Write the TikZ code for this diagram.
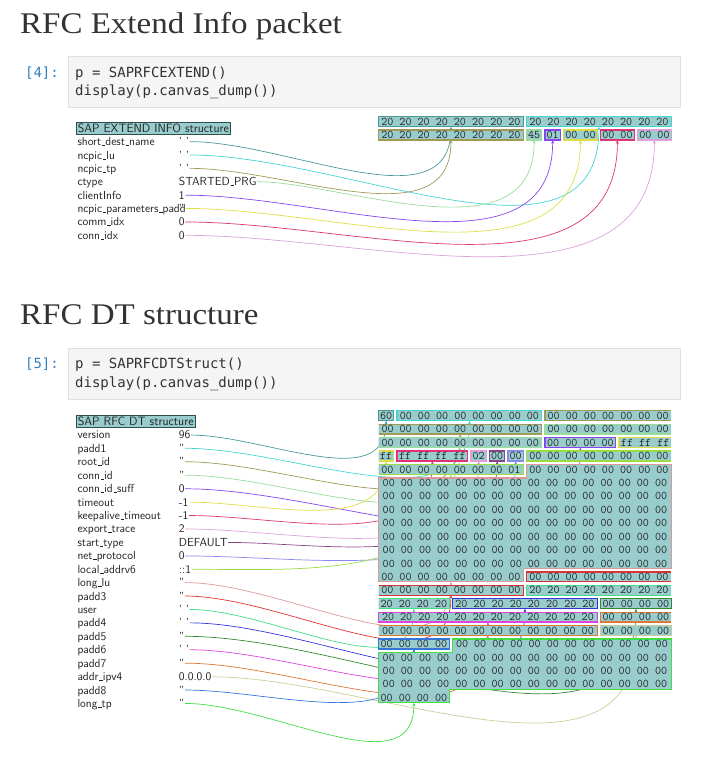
\documentclass[tikz,border=0pt]{standalone}
\usepackage{fontspec}
\usepackage{graphicx}
\newfontfamily\titlefont{Liberation Serif}
\newfontfamily\codefont{DejaVu Sans Mono}
\usetikzlibrary{calc,arrows.meta}
\pgfdeclarelayer{curves}
\pgfdeclarelayer{frames}
\pgfsetlayers{curves,frames,main}
\definecolor{titlegray}{HTML}{333333}
\definecolor{promptblue}{HTML}{307FC1}
\definecolor{codegray}{HTML}{333333}
\definecolor{cellbg}{HTML}{F5F5F5}
\definecolor{cellborder}{HTML}{E0E0E0}
\definecolor{bk}{HTML}{99CCCC}
\definecolor{txt}{HTML}{222222}
\definecolor{hdrborder}{HTML}{2F4F4F}
\definecolor{cA}{HTML}{4A9999}
\definecolor{cB}{HTML}{44D4D4}
\definecolor{cC}{HTML}{A09A55}
\definecolor{cD}{HTML}{99DD99}
\definecolor{cE}{HTML}{8844EE}
\definecolor{cF}{HTML}{DDDD44}
\definecolor{cG}{HTML}{DD3377}
\definecolor{cH}{HTML}{DDA0DD}
\definecolor{cI}{HTML}{884488}
\definecolor{cJ}{HTML}{8888EE}
\definecolor{cK}{HTML}{99DD44}
\definecolor{cL}{HTML}{DD9999}
\definecolor{cM}{HTML}{DD3333}
\definecolor{cN}{HTML}{44DD88}
\definecolor{cO}{HTML}{3333DD}
\definecolor{cP}{HTML}{338833}
\definecolor{cQ}{HTML}{DD44DD}
\definecolor{cR}{HTML}{DD7733}
\definecolor{cS}{HTML}{CCCC99}
\definecolor{cT}{HTML}{3377DD}
\definecolor{cU}{HTML}{44DD44}
\newcommand{\usc}{\leavevmode\kern.06em\rule{0.3em}{0.5pt}}
\newcommand{\hexchunk}[5]{\node[chunk, minimum width={18.5*#4-3.83}] (#1) at ({378.63+18.5*#3},#2) {#5};}
\newcommand{\boxfld}[2]{\filldraw[fld=#2] (#1.south west) rectangle (#1.north east);}
\newcommand{\brkfld}[3]{%
  \fill[bk] (#1.south west) rectangle (#1.north east) (#2.south west) rectangle (#2.north east);
  \draw[fldline=#3] (#1.north east) -- (#1.north west) -- (#1.south west) -- (#1.south east)
     (#2.north west) -- (#2.north east) -- (#2.south east) -- (#2.south west);}
\newcommand{\polyfld}[5]{%
  \filldraw[fld=#5] (#1.north west) -- (#1.north east) -- (#1.east |- #3.south) -- (#4.east |- #3.south)
     -- (#4.south east) -- (#4.south west) -- (#2.north west) -- (#1.west |- #2.north) -- cycle;}
\newcommand{\linkcurve}[3]{%
  \draw[conn=#3] let \p1=(#1.center), \p2=(#2.center), \n1={0.39*veclen(\x2-\x1,\y2-\y1)} in
    (#1.east) .. controls (\x1+\n1,\y1) and (\x2,\y2-\n1) .. (#2.south);}
\begin{document}
\begin{tikzpicture}[x=1pt,y=-1pt,
  ttl/.style={anchor=base west, inner sep=0pt, text=titlegray, font=\titlefont\fontsize{30}{32}\selectfont},
  prompt/.style={anchor=base east, inner sep=0pt, text=promptblue, font=\codefont\fontsize{14}{16}\selectfont},
  codetxt/.style={anchor=base west, inner sep=0pt, text=codegray, font=\codefont\fontsize{14}{16}\selectfont},
  cell/.style={anchor=north west, fill=cellbg, draw=cellborder, line width=0.8pt, inner sep=0pt},
  fname/.style={anchor=base west, inner sep=0pt, text=txt, font=\sffamily\fontsize{11.7}{13}\selectfont},
  fval/.style={anchor=base west, inner sep=0.4pt, text=txt, font=\sffamily\fontsize{11.7}{13}\selectfont},
  hdr/.style={anchor=west, draw=hdrborder, fill=bk, line width=1.1pt, inner xsep=1.6pt, inner ysep=1.6pt,
    text height=8.4pt, text depth=0.4pt, text=txt, font=\sffamily\fontsize{12.1}{13}\selectfont},
  chunk/.style={anchor=west, inner xsep=0pt, inner ysep=1.17pt, text height=7.2pt, text depth=0pt,
    text=txt, font=\ttfamily\fontsize{11.75}{12}\selectfont},
  fld/.style={draw=#1, fill=bk, line width=1.3pt, line join=miter},
  fldline/.style={draw=#1, line width=1.3pt, line join=miter},
  conn/.style={draw=#1, line width=0.7pt, -{Stealth[length=3.6pt,width=3pt]}}
]
\useasboundingbox (0,0) rectangle (708,762);

% ---------------- Section 1 ----------------
\node[ttl] (title1) at (20,33.3) {\scalebox{1.1}[1]{RFC Extend Info packet}};
\node[cell, minimum width=612pt, minimum height=51pt] (cell1) at (68,56.5) {};
\node[prompt] (prompt1) at (59,77.3) {[4]:};
\node[codetxt] (code1a) at (75,77.3) {p = SAPRFCEXTEND()};
\node[codetxt] (code1b) at (75,96) {display(p.canvas\_dump())};

\node[hdr] (eh) at (75.6,128.7) {SAP EXTEND INFO structure};
\foreach \nm/\vl [count=\i] in {short\usc dest\usc name/' ', ncpic\usc lu/' ', ncpic\usc tp/' ', ctype/STARTED\usc PRG,
   clientInfo/1, ncpic\usc parameters\usc padd/'', comm\usc idx/0, conn\usc idx/0} {
  \node[fname] (en\i) at (77.3,{132.35+13.35*\i}) {\nm};
  \node[fval] (ev\i) at (178.3,{132.35+13.35*\i}) {\vl};
}
\hexchunk{e1a}{121.7}{0}{8}{20 20 20 20 20 20 20 20}
\hexchunk{e1b}{121.7}{8}{8}{20 20 20 20 20 20 20 20}
\hexchunk{e2a}{135.1}{0}{8}{20 20 20 20 20 20 20 20}
\hexchunk{e2b}{135.1}{8}{1}{45}
\hexchunk{e2c}{135.1}{9}{1}{01}
\hexchunk{e2d}{135.1}{10}{2}{00 00}
\hexchunk{e2e}{135.1}{12}{2}{00 00}
\hexchunk{e2f}{135.1}{14}{2}{00 00}

% ---------------- Section 2 ----------------
\node[ttl] (title2) at (20,324.3) {\scalebox{1.1}[1]{RFC DT structure}};
\node[cell, minimum width=612pt, minimum height=51pt] (cell2) at (68,347.5) {};
\node[prompt] (prompt2) at (59,368.3) {[5]:};
\node[codetxt] (code2a) at (75,368.3) {p = SAPRFCDTStruct()};
\node[codetxt] (code2b) at (75,387) {display(p.canvas\_dump())};

\node[hdr] (dh) at (75.6,421.5) {SAP RFC DT structure};
\foreach \nm/\vl [count=\i] in {version/96, padd1/'', root\usc id/'', conn\usc id/'', conn\usc id\usc suff/0,
   timeout/-1, keepalive\usc timeout/-1, export\usc trace/2, start\usc type/DEFAULT, net\usc protocol/0,
   local\usc addrv6/::1, long\usc lu/'', padd3/'', user/' ', padd4/' ', padd5/'', padd6/' ', padd7/'',
   addr\usc ipv4/0.0.0.0, padd8/'', long\usc tp/''} {
  \node[fname] (dn\i) at (77.3,{425.47+13.43*\i}) {\nm};
  \node[fval] (dv\i) at (178.3,{425.47+13.43*\i}) {\vl};
}
\hexchunk{d1a}{415.70}{0}{1}{60}
\hexchunk{d1b}{415.70}{1}{8}{00 00 00 00 00 00 00 00}
\hexchunk{d1c}{415.70}{9}{7}{00 00 00 00 00 00 00}
\hexchunk{d2a}{429.13}{0}{9}{00 00 00 00 00 00 00 00 00}
\hexchunk{d2b}{429.13}{9}{7}{00 00 00 00 00 00 00}
\hexchunk{d3a}{442.56}{0}{9}{00 00 00 00 00 00 00 00 00}
\hexchunk{d3b}{442.56}{9}{4}{00 00 00 00}
\hexchunk{d3c}{442.56}{13}{3}{ff ff ff}
\hexchunk{d4a}{455.99}{0}{1}{ff}
\hexchunk{d4b}{455.99}{1}{4}{ff ff ff ff}
\hexchunk{d4c}{455.99}{5}{1}{02}
\hexchunk{d4d}{455.99}{6}{1}{00}
\hexchunk{d4e}{455.99}{7}{1}{00}
\hexchunk{d4f}{455.99}{8}{8}{00 00 00 00 00 00 00 00}
\hexchunk{d5a}{469.42}{0}{8}{00 00 00 00 00 00 00 01}
\hexchunk{d5b}{469.42}{8}{8}{00 00 00 00 00 00 00 00}
\foreach \r/\yy in {6/482.85, 7/496.28, 8/509.71, 9/523.14, 10/536.57, 11/550.00, 12/563.43} {
  \hexchunk{d\r}{\yy}{0}{16}{00 00 00 00 00 00 00 00 00 00 00 00 00 00 00 00}
}
\hexchunk{d13a}{576.86}{0}{8}{00 00 00 00 00 00 00 00}
\hexchunk{d13b}{576.86}{8}{8}{00 00 00 00 00 00 00 00}
\hexchunk{d14a}{590.29}{0}{8}{00 00 00 00 00 00 00 00}
\hexchunk{d14b}{590.29}{8}{8}{20 20 20 20 20 20 20 20}
\hexchunk{d15a}{603.72}{0}{4}{20 20 20 20}
\hexchunk{d15b}{603.72}{4}{8}{20 20 20 20 20 20 20 20}
\hexchunk{d15c}{603.72}{12}{4}{00 00 00 00}
\hexchunk{d16a}{617.15}{0}{12}{20 20 20 20 20 20 20 20 20 20 20 20}
\hexchunk{d16b}{617.15}{12}{4}{00 00 00 00}
\hexchunk{d17a}{630.58}{0}{12}{00 00 00 00 00 00 00 00 00 00 00 00}
\hexchunk{d17b}{630.58}{12}{4}{00 00 00 00}
\hexchunk{d18a}{644.01}{0}{4}{00 00 00 00}
\hexchunk{d18b}{644.01}{4}{12}{00 00 00 00 00 00 00 00 00 00 00 00}
\foreach \r/\yy in {19/657.44, 20/670.87, 21/684.30} {
  \hexchunk{d\r}{\yy}{0}{16}{00 00 00 00 00 00 00 00 00 00 00 00 00 00 00 00}
}
\hexchunk{d22}{697.73}{0}{4}{00 00 00 00}

% ---------------- frames ----------------
\begin{pgfonlayer}{frames}
\boxfld{e1a}{cA}
\boxfld{e1b}{cB}
\boxfld{e2a}{cC}
\boxfld{e2b}{cD}
\boxfld{e2c}{cE}
\boxfld{e2d}{cF}
\boxfld{e2e}{cG}
\boxfld{e2f}{cH}
\boxfld{d1a}{cA}
\boxfld{d1b}{cB}
\brkfld{d1c}{d2a}{cC}
\brkfld{d2b}{d3a}{cD}
\boxfld{d3b}{cE}
\brkfld{d3c}{d4a}{cF}
\boxfld{d4b}{cG}
\boxfld{d4c}{cH}
\boxfld{d4d}{cI}
\boxfld{d4e}{cJ}
\brkfld{d4f}{d5a}{cK}
\polyfld{d5b}{d6}{d12}{d13a}{cL}
\brkfld{d13b}{d14a}{cM}
\brkfld{d14b}{d15a}{cN}
\boxfld{d15b}{cO}
\boxfld{d15c}{cP}
\boxfld{d16a}{cQ}
\brkfld{d16b}{d17a}{cR}
\boxfld{d17b}{cS}
\boxfld{d18a}{cT}
\polyfld{d18b}{d19}{d21}{d22}{cU}
\end{pgfonlayer}

% ---------------- connectors ----------------
\begin{pgfonlayer}{curves}
\foreach \i/\t/\c in {1/e1a/cA, 2/e1b/cB, 3/e2a/cC, 4/e2b/cD, 5/e2c/cE, 6/e2d/cF, 7/e2e/cG, 8/e2f/cH} {
  \linkcurve{ev\i}{\t}{\c}
}
\foreach \i/\t/\c in {1/d1a/cA, 2/d1b/cB, 3/d2a/cC, 4/d3a/cD, 5/d3b/cE, 6/d4a/cF, 7/d4b/cG,
   8/d4c/cH, 9/d4d/cI, 10/d4e/cJ, 11/d5a/cK, 12/d13a/cL, 13/d14a/cM, 14/d15a/cN, 15/d15b/cO,
   16/d15c/cP, 17/d16a/cQ, 18/d17a/cR, 19/d17b/cS, 20/d18a/cT, 21/d22/cU} {
  \linkcurve{dv\i}{\t}{\c}
}
\end{pgfonlayer}
\end{tikzpicture}
\end{document}
